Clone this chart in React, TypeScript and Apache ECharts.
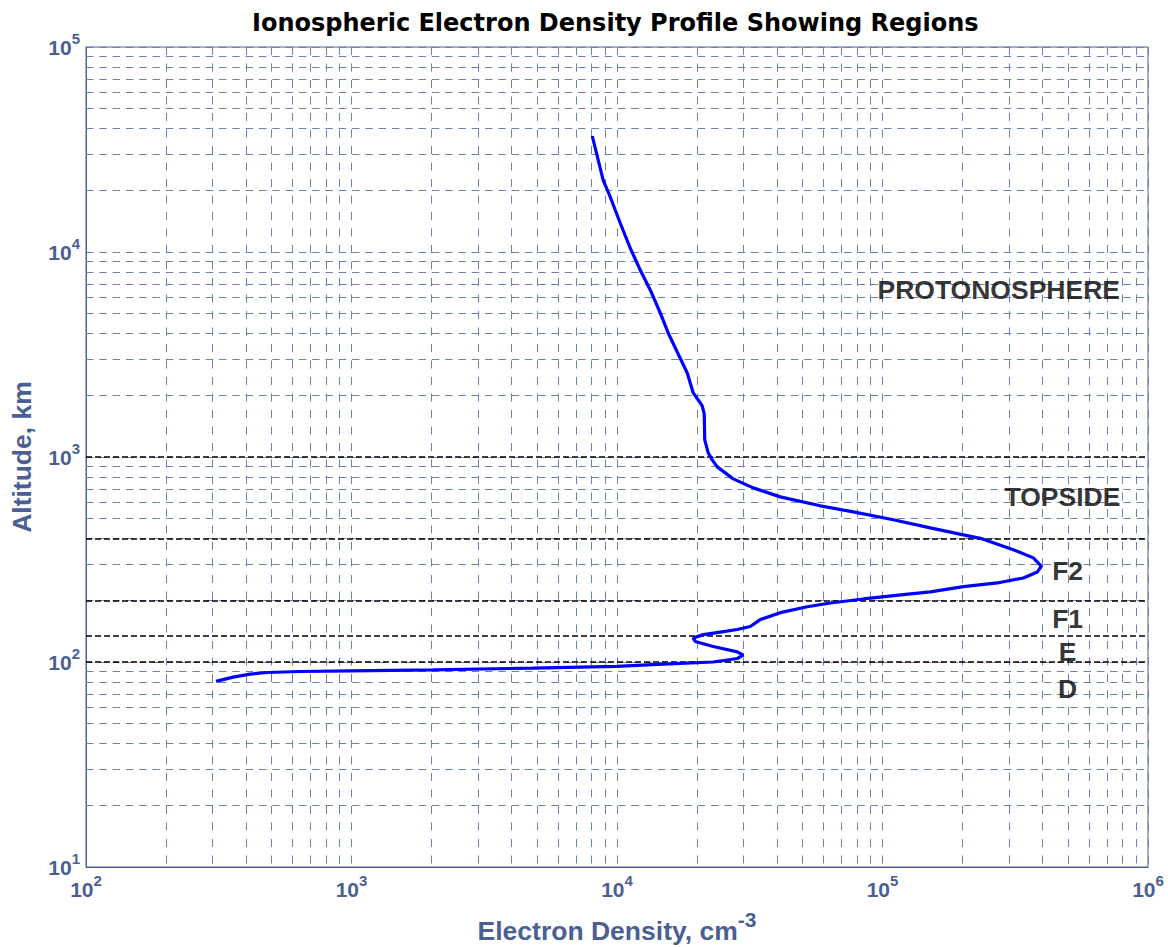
import React, { useEffect, useRef } from 'react';
import * as echarts from 'echarts';

// Electron density profile (cm^-3) vs altitude (km), top to bottom
const densityValues = [
  8070, 8870, 9430, 10280, 11210, 12230, 13340, 14550, 15590, 16860, 18390, 19370, 20230, 20940, 21310, 21400,
  22060, 22840, 23860, 27410, 32610, 41190, 58300, 77620, 109800, 151400, 201600, 233700, 311000, 370000, 396700,
  383100, 339300, 270800, 201600, 151400, 119800, 84660, 63580, 52090, 41190, 34640, 31760, 28380, 24480, 21130,
  19370, 19710, 23040, 28380, 29890, 28380, 23040, 17300, 12990, 10020, 4834, 2030, 988, 640, 481, 415, 358, 309,
];
const altitudeValues = [
  36780, 22440, 18550, 13850, 10460, 8172, 6527, 5042, 4028, 3254, 2570, 2054, 1898, 1775, 1623, 1212,
  1047, 968, 895, 782, 707, 639, 578, 540, 494, 451, 417, 401, 353, 322, 293,
  275, 257, 243, 233, 220, 213, 203, 194, 186, 174, 161, 149, 144, 140, 136,
  131, 126, 119, 112, 108, 104, 100, 98.5, 96.9, 95.3, 93.4, 91.6, 90.6, 89.9, 88.9, 87.3, 84.4, 80.4,
];

// Region boundaries (km)
const regionBoundaries = [1000, 400, 200, 135, 100];

// Region labels
const regionNames = ['PROTONOSPHERE', 'TOPSIDE', 'F2', 'F1', 'E', 'D'];
const regionDensity = [274000, 476000, 498000, 498000, 498000, 498000];
const regionAltitude = [6550, 641, 278, 162, 112.5, 74.2];

// Axes
const X_MIN = 1e2;
const X_MAX = 1e6;
const Y_MIN = 1e1;
const Y_MAX = 1e5;
const xDecades = [100, 1000, 10000, 100000];
const yDecades = [10, 100, 1000, 10000];
const minorSteps = [2, 3, 4, 5, 6, 7, 8, 9];

const TITLE = 'Ionospheric Electron Density Profile Showing Regions';
const AXIS_COLOR = '#4b5f93';
const GRID_COLOR = '#6e80ad';
const FONT = '"Liberation Sans", Arial, Helvetica, sans-serif';

export default function App() {
  const ref = useRef<HTMLDivElement>(null);

  useEffect(() => {
    if (!ref.current) return;
    const chart = echarts.init(ref.current, undefined, { renderer: 'svg' });

    const minorX = xDecades.flatMap((d) => minorSteps.map((m) => m * d));
    const minorY = yDecades.flatMap((d) => minorSteps.map((m) => m * d));

    const tickRich = {
      b: {
        fontSize: 21,
        fontWeight: 'bold',
        fontFamily: FONT,
        color: AXIS_COLOR,
        lineHeight: 33,
        verticalAlign: 'middle',
      },
      s: {
        fontSize: 15,
        fontWeight: 'bold',
        fontFamily: FONT,
        color: AXIS_COLOR,
        lineHeight: 16,
        verticalAlign: 'top',
      },
    };
    const fmt = (v: number) => `{b|10}{s|${Math.round(Math.log10(v))}}`;
    const labelBase = {
      show: true,
      margin: 6,
      showMinLabel: true,
      showMaxLabel: true,
      fontSize: 21,
      fontWeight: 'bold',
      fontFamily: FONT,
      color: AXIS_COLOR,
      formatter: fmt,
      rich: tickRich,
    };

    chart.setOption({
      animation: false,
      backgroundColor: '#ffffff',
      title: {
        text: TITLE,
        left: 247,
        top: 5,
        textStyle: {
          fontFamily: '"DejaVu Sans", sans-serif',
          fontWeight: 'bold',
          fontSize: 24,
          lineHeight: 26,
          color: '#000000',
        },
      },
      grid: {
        left: 86,
        top: 47,
        width: 1062,
        height: 820,
        show: true,
        borderColor: AXIS_COLOR,
        borderWidth: 1,
        backgroundColor: 'transparent',
        outerBoundsMode: 'none',
      },
      xAxis: {
        type: 'log',
        logBase: 10,
        min: X_MIN,
        max: X_MAX,
        name: '{n|Electron Density, cm}{s|-3}',
        nameLocation: 'middle',
        nameGap: 42,
        nameTextStyle: {
          rich: {
            n: {
              fontSize: 26.5,
              fontWeight: 'bold',
              fontFamily: FONT,
              color: AXIS_COLOR,
              lineHeight: 44,
              verticalAlign: 'middle',
            },
            s: {
              fontSize: 21,
              fontWeight: 'bold',
              fontFamily: FONT,
              color: AXIS_COLOR,
              lineHeight: 22,
              verticalAlign: 'top',
            },
          },
        },
        axisLine: { show: true, lineStyle: { color: AXIS_COLOR, width: 1 } },
        axisTick: { show: false },
        axisLabel: labelBase,
        splitLine: {
          show: true,
          lineStyle: { color: GRID_COLOR, width: 1, type: [8, 8.5] },
        },
      },
      yAxis: {
        type: 'log',
        logBase: 10,
        min: Y_MIN,
        max: Y_MAX,
        name: 'Altitude, km',
        nameLocation: 'middle',
        nameGap: 48,
        nameTextStyle: {
          fontSize: 26.5,
          fontWeight: 'bold',
          fontFamily: FONT,
          color: AXIS_COLOR,
          lineHeight: 30,
        },
        axisLine: { show: true, lineStyle: { color: AXIS_COLOR, width: 1 } },
        axisTick: { show: false },
        axisLabel: labelBase,
        splitLine: {
          show: true,
          lineStyle: { color: GRID_COLOR, width: 1, type: [7.5, 5.8] },
        },
      },
      series: [
        {
          name: 'minorVertical',
          type: 'line',
          data: [],
          silent: true,
          markLine: {
            silent: true,
            z: 1,
            symbol: ['none', 'none'],
            label: { show: false },
            lineStyle: { color: GRID_COLOR, width: 1, type: [8, 8.5] },
            emphasis: { disabled: true },
            data: minorX.map((v) => [{ coord: [v, Y_MAX] }, { coord: [v, Y_MIN] }]),
          },
        },
        {
          name: 'minorHorizontal',
          type: 'line',
          data: [],
          silent: true,
          markLine: {
            silent: true,
            z: 1,
            symbol: ['none', 'none'],
            label: { show: false },
            lineStyle: { color: GRID_COLOR, width: 1, type: [7.5, 5.8] },
            emphasis: { disabled: true },
            data: minorY.map((v) => [{ coord: [X_MIN, v] }, { coord: [X_MAX, v] }]),
          },
        },
        {
          name: 'boundaries',
          type: 'line',
          data: [],
          silent: true,
          markLine: {
            silent: true,
            z: 2,
            symbol: ['none', 'none'],
            label: { show: false },
            lineStyle: { color: '#000000', width: 1.6, type: [6, 3] },
            emphasis: { disabled: true },
            data: regionBoundaries.map((v) => [{ coord: [X_MIN, v] }, { coord: [X_MAX, v] }]),
          },
        },
        {
          name: 'profile',
          type: 'line',
          z: 3,
          showSymbol: false,
          symbol: 'none',
          smooth: false,
          silent: true,
          lineStyle: { color: '#0000ff', width: 3.2 },
          data: densityValues.map((d, i) => [d, altitudeValues[i]]),
        },
        {
          name: 'regions',
          type: 'scatter',
          z: 4,
          symbolSize: 0,
          silent: true,
          label: {
            show: true,
            position: 'inside',
            formatter: '{b}',
            color: '#000000',
            fontSize: 26.5,
            fontWeight: 'bold',
            fontFamily: FONT,
          },
          data: regionNames.map((n, i) => ({ name: n, value: [regionDensity[i], regionAltitude[i]] })),
        },
      ],
    });

    return () => chart.dispose();
  }, []);

  return (
    <div
      ref={ref}
      style={{ position: 'absolute', left: 0, top: 0, width: 1168, height: 947 }}
    />
  );
}
